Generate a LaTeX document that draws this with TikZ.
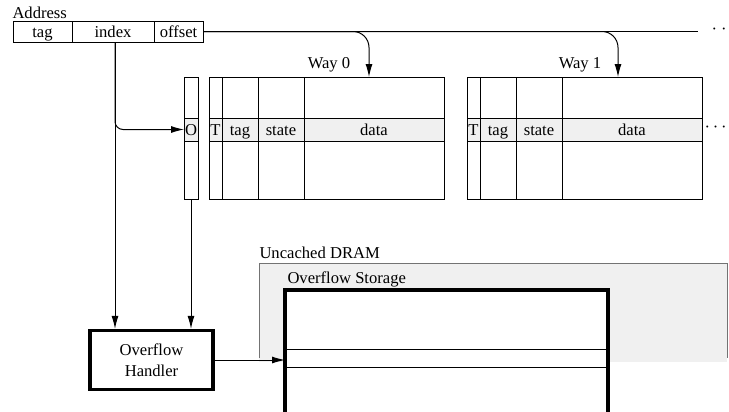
\documentclass[tikz,border=0pt]{standalone}
\usepackage{fontspec}
\setmainfont{Liberation Serif}
\usetikzlibrary{arrows.meta}

\begin{document}
\begin{tikzpicture}[x=0.5pt,y=-0.5pt,line width=0.5pt,
  font=\fontsize{8.3}{10.5}\selectfont,
  field/.style={draw,minimum height=10.5pt,inner sep=0pt,text height=1.5ex,text depth=0.25ex},
  lbl/.style={inner sep=0pt},
  cell/.style={inner sep=0pt,text height=1.5ex,text depth=0.25ex},
  arr/.style={-{Latex[length=6.5pt,width=3.5pt]}},
  rowfill/.style={fill=black!6},
  heavy/.style={line width=1.6pt}]
\useasboundingbox (0,0) rectangle (729,412);
%address
\node[lbl,anchor=west] (addr) at (12,13) {Address};
\node[field,minimum width=29.5pt] (tag) at (42.5,31.5) {tag};
\node[field,minimum width=41pt] (index) at (113,31.5) {index};
\node[field,minimum width=24.5pt] (offset) at (178.5,31.5) {offset};
% overflow bits
\fill[rowfill] (184,118) rectangle (198,141);
\draw (184,77) rectangle (198,199);
\draw (184,118) -- (198,118) (184,141) -- (198,141);
\node[cell] (obit) at (191,129.5) {O};
\coordinate (oin) at (184,129.5);
\coordinate (obot) at (191,199);
% ways
\foreach \l/\w in {209/0,467/1}{
  \fill[rowfill] (\l,118) rectangle +(235,23);
  \draw (\l,77) rectangle +(235,122);
  \draw (\l,118) -- +(235,0) (\l,141) -- +(235,0);
  \draw (\l+13,77) -- +(0,122) (\l+49,77) -- +(0,122) (\l+95,77) -- +(0,122);
  \node[cell] (t\w) at (\l+6.5,129.5) {T};
  \node[cell] (tg\w) at (\l+31,129.5) {tag};
  \node[cell] (st\w) at (\l+72,129.5) {state};
  \node[cell] (d\w) at (\l+165,129.5) {data};
}
\node[lbl] (way0) at (329,65) {Way 0};
\node[lbl] (way1) at (580,65) {Way 1};
\coordinate (w0in) at (369,77);
\coordinate (w1in) at (618,77);
\coordinate (busend) at (698,31.5);
\node[lbl,anchor=west] (busdots) at (711,31) {· ·};
\node[lbl,anchor=west] (rowdots) at (704,129.5) {·\,·\,·};
% offset bus
\draw (offset.east) -- (busend);
\draw[arr,rounded corners=8pt] (offset.east) -| (w0in);
\draw[arr,rounded corners=8pt] (offset.east) -| (w1in);
% handler
\node[draw,heavy,minimum width=61.5pt,minimum height=29.5pt,align=center] (handler) at (151.5,360) {Overflow\\Handler};
\coordinate (idx) at ([xshift=1pt]index.south);
\draw[arr,rounded corners=4pt] (idx) |- (oin);
\draw[arr] (idx) -- (idx |- handler.north);
\draw[arr] (obot) -- (obot |- handler.north);
% DRAM
\fill[black!6] (259,263) rectangle (727,362);
\draw[black!55] (259,358) |- (727,263) -- (727,358);
\node[lbl,anchor=west] (dram) at (259,253) {Uncached DRAM};
\node[lbl,anchor=west] (ovst) at (287,279) {Overflow Storage};
\fill[white] (285,290) rectangle (608,413);
\draw[heavy] (285,414) |- (608,290) -- (608,414);
\draw (285,349) -- (608,349) (285,367) -- (608,367);
\coordinate (slot) at (285,360);
\draw[arr] (handler.east) -- (slot);
\end{tikzpicture}
\end{document}
